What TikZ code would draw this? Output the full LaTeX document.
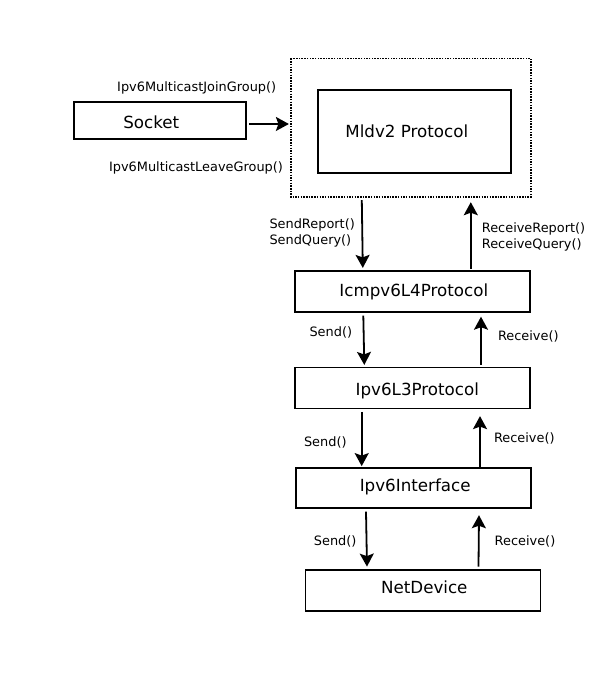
\documentclass[tikz,border=0pt]{standalone}
\usepackage{fontspec}
\setmainfont{DejaVu Sans}
\usetikzlibrary{arrows.meta}

\begin{document}
\begin{tikzpicture}[x=1pt,y=-1pt,
  block/.style={draw,line width=1.8pt,minimum width=235pt,minimum height=41pt,inner sep=0pt},
  every label/.style={font=\fontsize{16.7}{20}\selectfont,text height=12.2pt,text depth=0pt,inner sep=0pt},
  call/.style={font=\fontsize{12.9}{16}\selectfont,text height=9.4pt,text depth=0pt,inner sep=0pt},
  calls/.style={font=\fontsize{12.9}{16}\selectfont,inner sep=0pt,align=left,anchor=west},
  flow/.style={line width=1.8pt,-{Stealth[length=13pt,width=14pt,inset=2.5pt]}}]
 \useasboundingbox (0,0) rectangle (598,683);
 % upper part
 \node[block,minimum width=172pt,minimum height=37.5pt,label={[shift={(-9,2)}]center:Socket}] (socket) at (160.3,120.4) {};
 \node[block,draw=none,minimum width=238pt,minimum height=137pt] (outer) at (410.8,127.8) {};
 \draw[line width=1.8pt,dash pattern=on 1.5pt off 1.2pt] (outer.north west) rectangle (outer.south east);
 \node[block,minimum width=193pt,minimum height=83pt,label={[shift={(-8,0)}]center:Mldv2 Protocol}] (mld) at (414.8,131.5) {};

 \node[call] (join) at (196.7,87) {Ipv6MulticastJoinGroup()};
 \node[call] (leave) at (196,167) {Ipv6MulticastLeaveGroup()};
 \draw[flow] ([shift={(2,3.5)}]socket.east) -- ([shift={(-2,-3.8)}]outer.west);

 % stack
 \node[block,label={[shift={(1,-1)}]center:Icmpv6L4Protocol}] (icmp) at (412.8,291.3) {};
 \node[block,label={[shift={(5,1)}]center:Ipv6L3Protocol}] (ipl3) at (412.3,388) {};
 \node[block,minimum height=40pt,label={[shift={(1.4,-3)}]center:Ipv6Interface}] (iface) at (413.8,488.3) {};
 \node[block,label={[shift={(1.3,-3.3)}]center:NetDevice}] (netdev) at (423,590.3) {};

 \draw[flow] ([shift={(-49,3)}]outer.south) -- ([shift={(-50,-2)}]icmp.north);
 \draw[flow] ([shift={(58,-1)}]icmp.north) -- ([shift={(60,5)}]outer.south);
 \draw[flow] ([shift={(-49.5,3)}]icmp.south) -- ([shift={(-48,-1.7)}]ipl3.north);
 \draw[flow] ([shift={(68.7,-1.7)}]ipl3.north) -- ([shift={(68.2,4)}]icmp.south);
 \draw[flow] ([shift={(-50.6,2.4)}]ipl3.south) -- ([shift={(-52.1,-1.3)}]iface.north);
 \draw[flow] ([shift={(66.2,0)}]iface.north) -- ([shift={(67.7,6.7)}]ipl3.south);
 \draw[flow] ([shift={(-47.8,2.4)}]iface.south) -- ([shift={(-56,-2.3)}]netdev.north);
 \draw[flow] ([shift={(55.5,-2.3)}]netdev.north) -- ([shift={(65.2,6)}]iface.south);

 \node[calls] (sendmld) at (269.3,232.5) {SendReport()\\SendQuery()};
 \node[calls] (recvmld) at (481.7,236.5) {ReceiveReport()\\ReceiveQuery()};
 \node[call] (send1) at (330.8,331.5) {Send()};
 \node[call] (recv1) at (528.3,335.5) {Receive()};
 \node[call] (send2) at (325.3,441.5) {Send()};
 \node[call] (recv2) at (524.3,438) {Receive()};
 \node[call] (send3) at (335.2,540.5) {Send()};
 \node[call] (recv3) at (525,541) {Receive()};
\end{tikzpicture}
\end{document}
